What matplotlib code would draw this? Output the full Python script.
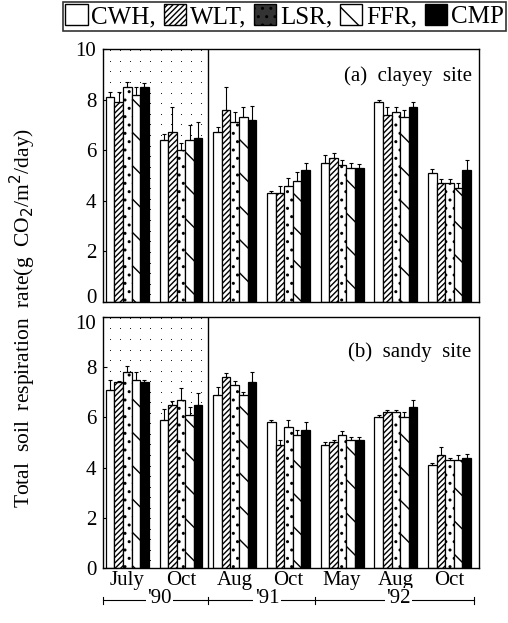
import numpy as np
import matplotlib
matplotlib.use('Agg')
import matplotlib.pyplot as plt
import matplotlib.transforms as mtransforms
from matplotlib.patches import Patch

plt.rcParams['font.family'] = ['Liberation Serif', 'DejaVu Serif']
plt.rcParams['hatch.linewidth'] = 1.0

# ===== data =====
months = ['July', 'Oct', 'Aug', 'Oct', 'May', 'Aug', 'Oct']
treatments = ['CWH', 'WLT', 'LSR', 'FFR', 'CMP']

# (a) clayey site, rows = treatments, cols = months
clayey_mean = [
    [8.1, 6.4, 6.7, 4.3, 5.5, 7.9, 5.1],   # CWH
    [7.9, 6.7, 7.6, 4.3, 5.7, 7.4, 4.7],   # WLT
    [8.5, 6.0, 7.1, 4.6, 5.4, 7.5, 4.7],   # LSR
    [8.2, 6.4, 7.3, 4.8, 5.3, 7.3, 4.5],   # FFR
    [8.5, 6.5, 7.2, 5.2, 5.3, 7.7, 5.2],   # CMP
]
clayey_err = [
    [0.2, 0.25, 0.2, 0.1, 0.3, 0.1, 0.15],
    [0.4, 1.0, 0.9, 0.3, 0.2, 0.3, 0.15],
    [0.2, 0.3, 0.4, 0.3, 0.2, 0.2, 0.15],
    [0.3, 0.6, 0.4, 0.35, 0.2, 0.3, 0.2],
    [0.15, 0.6, 0.55, 0.3, 0.15, 0.2, 0.4],
]

# (b) sandy site
sandy_mean = [
    [7.1, 5.9, 6.9, 5.8, 4.9, 6.0, 4.1],
    [7.4, 6.5, 7.6, 4.9, 5.0, 6.2, 4.5],
    [7.8, 6.7, 7.3, 5.6, 5.3, 6.2, 4.3],
    [7.5, 6.1, 6.9, 5.3, 5.1, 6.0, 4.3],
    [7.4, 6.5, 7.4, 5.5, 5.1, 6.4, 4.4],
]
sandy_err = [
    [0.4, 0.45, 0.3, 0.1, 0.1, 0.1, 0.1],
    [0.05, 0.15, 0.15, 0.2, 0.1, 0.1, 0.3],
    [0.25, 0.45, 0.15, 0.3, 0.15, 0.1, 0.1],
    [0.3, 0.3, 0.1, 0.2, 0.1, 0.2, 0.2],
    [0.1, 0.45, 0.4, 0.3, 0.1, 0.3, 0.15],
]

years = ["'90", "'91", "'92"]

# ===== styles =====
faces = ['white', 'white', 'white', 'white', 'black']
hatches = [None, '//////', '..', '\\', None]

fig = plt.figure(figsize=(5.08, 6.23), dpi=100)
ax_a = fig.add_axes([0.203, 0.5153, 0.740, 0.406])
ax_b = fig.add_axes([0.203, 0.0883, 0.740, 0.403])

x = np.arange(len(months))
bw = 0.16


def draw_panel(ax, means, errs, label, label_y):
    # dotted background for 1990
    gx, gy = np.meshgrid(np.arange(-0.33, 1.45, 0.19), np.arange(0.3, 10, 0.42))
    ax.scatter(gx.ravel(), gy.ravel(), s=0.6, color='black', zorder=0, linewidths=0)
    ax.axvline(1.5, color='black', lw=1.0, zorder=1)

    for k in range(len(treatments)):
        pos = x + (k - 2) * bw
        ax.bar(pos, means[k], width=bw, color=faces[k], edgecolor='black',
               hatch=hatches[k], linewidth=0.9, zorder=2)
        ax.errorbar(pos, means[k], yerr=[np.zeros(len(months)), errs[k]],
                    fmt='none', ecolor='black', elinewidth=0.8, capsize=1.2,
                    capthick=0.8, zorder=3)

    ax.set_xlim(-0.45, 6.55)
    ax.set_ylim(0, 10)
    ax.set_yticks([0, 2, 4, 6, 8, 10])
    ax.tick_params(axis='y', direction='in', length=3, labelsize=15, pad=5)
    ax.tick_params(axis='x', length=0)
    ax.text(0.98, label_y, label, transform=ax.transAxes, ha='right', va='center',
            fontsize=15)
    for s in ax.spines.values():
        s.set_linewidth(1.0)


draw_panel(ax_a, clayey_mean, clayey_err, '(a)  clayey  site', 0.893)
draw_panel(ax_b, sandy_mean, sandy_err, '(b)  sandy  site', 0.858)

ax_a.set_xticks([])
ax_b.set_xticks(x)
ax_b.set_xticklabels(months, fontsize=15)
ax_b.tick_params(axis='x', pad=2)

# nudge the "0" of (a) up and the "10" of (b) down so they don't collide
fig.canvas.draw()
ax_a.get_yticklabels()[0].set_transform(
    ax_a.get_yticklabels()[0].get_transform()
    + mtransforms.ScaledTranslation(0, 4 / 72, fig.dpi_scale_trans))
ax_b.get_yticklabels()[-1].set_transform(
    ax_b.get_yticklabels()[-1].get_transform()
    + mtransforms.ScaledTranslation(0, -4 / 72, fig.dpi_scale_trans))

# ===== year bracket under the axis =====
tr = ax_b.get_xaxis_transform()
yy = -0.128
ax_b.plot([-0.45, 6.46], [yy, yy], color='black', lw=0.8, transform=tr, clip_on=False)
for xv in [-0.45, 1.5, 3.5, 6.46]:
    ax_b.plot([xv, xv], [yy - 0.014, yy + 0.014], color='black', lw=0.8,
              transform=tr, clip_on=False)
for xv, lab in zip([0.6, 2.6, 5.05], years):
    ax_b.text(xv, yy + 0.006, lab, transform=tr, ha='center', va='center', fontsize=15,
              bbox=dict(facecolor='white', edgecolor='none', pad=1))

# ===== y label =====
fig.text(0.045, 0.49, 'Total  soil  respiration  rate(g  CO$_2$/m$^2$/day)',
         rotation=90, ha='center', va='center', fontsize=15.5)

# ===== legend =====
leg_faces = ['white', 'white', '0.2', 'white', 'black']
handles = [Patch(facecolor=leg_faces[k], edgecolor='black', hatch=hatches[k])
           for k in range(len(treatments))]
labels = [t + ',' for t in treatments[:-1]] + [treatments[-1]]
leg = fig.legend(handles, labels, loc='upper center', bbox_to_anchor=(0.56, 0.997),
                 ncol=5, fontsize=18, frameon=True, fancybox=False,
                 handlelength=0.9, handleheight=0.9, handletextpad=0.15,
                 columnspacing=0.3, borderpad=0.1, borderaxespad=0.0)
leg.get_frame().set_edgecolor('black')
leg.get_frame().set_linewidth(1.2)

plt.savefig('out.png', dpi=100)
plt.close()
